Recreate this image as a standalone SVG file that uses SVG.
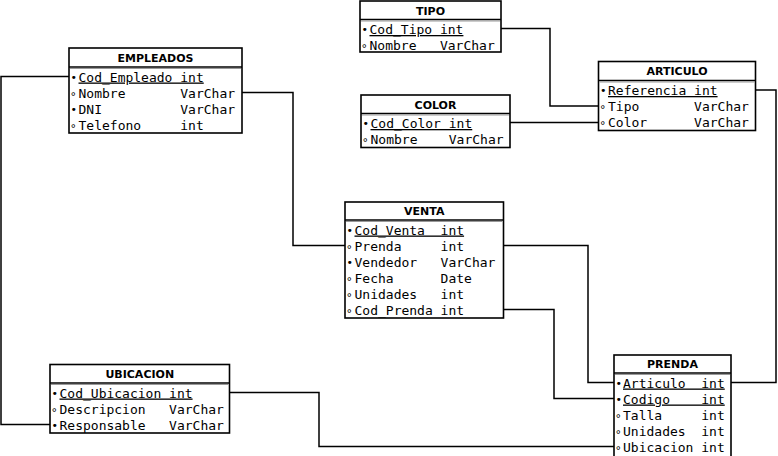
<svg xmlns="http://www.w3.org/2000/svg" width="778" height="456" viewBox="0 0 778 456">
<style>
.box{fill:#fff;stroke:#000;stroke-width:1.6}
.sep{stroke:#000;stroke-width:1.6}
.sep2{stroke:#999;stroke-width:1}
.t{font-family:"DejaVu Sans",sans-serif;font-weight:bold;font-size:11px;text-anchor:middle;fill:#000}
.r{font-family:"DejaVu Sans Mono",monospace;font-size:13px;fill:#000;white-space:pre}
.k{text-decoration:underline}
.b{font-family:"DejaVu Sans",sans-serif;font-size:11px;fill:#000}
.h{font-family:"DejaVu Sans",sans-serif;font-size:11px;fill:#000}
.c{fill:none;stroke:#000;stroke-width:1.5}
</style>
<g id="connectors">
<path class="c" d="M69,76.5 H1 V424.5 H50"/>
<path class="c" d="M242,92.5 H293 V245.5 H345"/>
<path class="c" d="M501,28.5 H550 V106 H598.5"/>
<path class="c" d="M510,122.5 H598.5"/>
<path class="c" d="M755.5,90 H776 V382.5 H731"/>
<path class="c" d="M503.5,245.5 H588 V382.5 H614"/>
<path class="c" d="M503.5,309.5 H554 V398.5 H614"/>
<path class="c" d="M229.5,392.5 H319 V446.5 H614"/>
</g>
<g id="TIPO">
<rect class="box" x="360" y="1" width="141" height="51"/>
<line class="sep" x1="360" y1="19.5" x2="501" y2="19.5"/>
<line class="sep2" x1="361" y1="21" x2="500" y2="21"/>
<text class="t" x="430.5" y="14.5">TIPO</text>
<text class="b" x="361.5" y="33">•</text><text class="r k" x="369.5" y="34" xml:space="preserve">Cod_Tipo int</text>
<text class="h" x="361.5" y="52">°</text><text class="r" x="369.5" y="50" xml:space="preserve">Nombre   VarChar</text>
</g>
<g id="ARTICULO">
<rect class="box" x="598.5" y="61.5" width="157" height="69"/>
<line class="sep" x1="598.5" y1="80.5" x2="755.5" y2="80.5"/>
<line class="sep2" x1="599.5" y1="82" x2="754.5" y2="82"/>
<text class="t" x="677" y="75">ARTICULO</text>
<text class="b" x="600" y="94">•</text><text class="r k" x="608" y="95" xml:space="preserve">Referencia int</text>
<text class="h" x="600" y="113">°</text><text class="r" x="608" y="111" xml:space="preserve">Tipo       VarChar</text>
<text class="h" x="600" y="129">°</text><text class="r" x="608" y="127" xml:space="preserve">Color      VarChar</text>
</g>
<g id="COLOR">
<rect class="box" x="361" y="95" width="149" height="52.5"/>
<line class="sep" x1="361" y1="113.5" x2="510" y2="113.5"/>
<line class="sep2" x1="362" y1="115" x2="509" y2="115"/>
<text class="t" x="435.5" y="108.5">COLOR</text>
<text class="b" x="362.5" y="127">•</text><text class="r k" x="370.5" y="128" xml:space="preserve">Cod_Color int</text>
<text class="h" x="362.5" y="146">°</text><text class="r" x="370.5" y="144" xml:space="preserve">Nombre    VarChar</text>
</g>
<g id="EMPLEADOS">
<rect class="box" x="69" y="48" width="173" height="85"/>
<line class="sep" x1="69" y1="67" x2="242" y2="67"/>
<line class="sep2" x1="70" y1="68.5" x2="241" y2="68.5"/>
<text class="t" x="155.5" y="61.5">EMPLEADOS</text>
<text class="b" x="70.5" y="80.5">•</text><text class="r k" x="78.5" y="81.5" xml:space="preserve">Cod_Empleado int</text>
<text class="h" x="70.5" y="99.5">°</text><text class="r" x="78.5" y="97.5" xml:space="preserve">Nombre       VarChar</text>
<text class="b" x="70.5" y="112.5">•</text><text class="r" x="78.5" y="113.5" xml:space="preserve">DNI          VarChar</text>
<text class="h" x="70.5" y="131.5">°</text><text class="r" x="78.5" y="129.5" xml:space="preserve">Telefono     int</text>
</g>
<g id="VENTA">
<rect class="box" x="345" y="202" width="158.5" height="116"/>
<line class="sep" x1="345" y1="220" x2="503.5" y2="220"/>
<line class="sep2" x1="346" y1="221.5" x2="502.5" y2="221.5"/>
<text class="t" x="424.25" y="215">VENTA</text>
<text class="b" x="346.5" y="233.5">•</text><text class="r k" x="354.5" y="234.5" xml:space="preserve">Cod_Venta  int</text>
<text class="h" x="346.5" y="252.5">°</text><text class="r" x="354.5" y="250.5" xml:space="preserve">Prenda     int</text>
<text class="b" x="346.5" y="265.5">•</text><text class="r" x="354.5" y="266.5" xml:space="preserve">Vendedor   VarChar</text>
<text class="h" x="346.5" y="284.5">°</text><text class="r" x="354.5" y="282.5" xml:space="preserve">Fecha      Date</text>
<text class="h" x="346.5" y="300.5">°</text><text class="r" x="354.5" y="298.5" xml:space="preserve">Unidades   int</text>
<text class="h" x="346.5" y="316.5">°</text><text class="r" x="354.5" y="314.5" xml:space="preserve">Cod_Prenda int</text>
</g>
<g id="UBICACION">
<rect class="box" x="50" y="364.5" width="179.5" height="68.5"/>
<line class="sep" x1="50" y1="383" x2="229.5" y2="383"/>
<line class="sep2" x1="51" y1="384.5" x2="228.5" y2="384.5"/>
<text class="t" x="139.75" y="377.5">UBICACION</text>
<text class="b" x="51.5" y="396.5">•</text><text class="r k" x="59.5" y="397.5" xml:space="preserve">Cod_Ubicacion int</text>
<text class="h" x="51.5" y="415.5">°</text><text class="r" x="59.5" y="413.5" xml:space="preserve">Descripcion   VarChar</text>
<text class="b" x="51.5" y="428.5">•</text><text class="r" x="59.5" y="429.5" xml:space="preserve">Responsable   VarChar</text>
</g>
<g id="PRENDA">
<rect class="box" x="614" y="355" width="117" height="106"/>
<line class="sep" x1="614" y1="373" x2="731" y2="373"/>
<line class="sep2" x1="615" y1="374.5" x2="730" y2="374.5"/>
<text class="t" x="672.5" y="368">PRENDA</text>
<text class="b" x="615.5" y="386.5">•</text><text class="r k" x="623" y="387.5" xml:space="preserve">Articulo  int</text>
<text class="b" x="615.5" y="402.5">•</text><text class="r k" x="623" y="403.5" xml:space="preserve">Codigo    int</text>
<text class="h" x="615.5" y="421.5">°</text><text class="r" x="623" y="419.5" xml:space="preserve">Talla     int</text>
<text class="h" x="615.5" y="437.5">°</text><text class="r" x="623" y="435.5" xml:space="preserve">Unidades  int</text>
<text class="h" x="615.5" y="453.5">°</text><text class="r" x="623" y="451.5" xml:space="preserve">Ubicacion int</text>
</g>
</svg>
